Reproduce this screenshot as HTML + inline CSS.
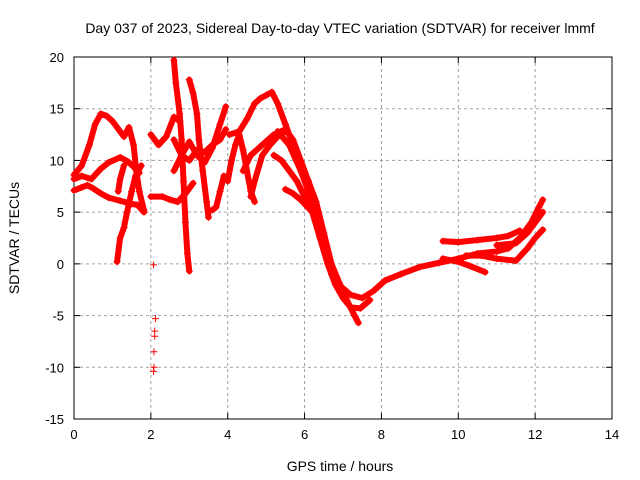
<!DOCTYPE html>
<html><head><meta charset="utf-8"><style>
body{margin:0;background:#fff;}
svg{display:block;font-family:"Liberation Sans",sans-serif;}
</style></head><body>
<svg id="chart" width="640" height="480">
<text x="340" y="33" text-anchor="middle" font-size="14">Day 037 of 2023, Sidereal Day-to-day VTEC variation (SDTVAR) for receiver lmmf</text>
<text x="340" y="471" text-anchor="middle" font-size="14">GPS time / hours</text>
<text transform="translate(19,238) rotate(-90)" text-anchor="middle" font-size="14">SDTVAR / TECUs</text>
<g id="grid"></g><g id="axes"></g><g id="marks"></g>
</svg>
<script>
const xTicks=[0,2,4,6,8,10,12,14];
const yTicks=[-15,-10,-5,0,5,10,15,20];
const tracks=[
[[0,8.6],[0.2,9.5],[0.4,11.5],[0.55,13.5],[0.7,14.5],[0.85,14.3],[1.0,13.8],[1.2,12.8],[1.3,12.3],[1.43,13.2],[1.55,11.5],[1.62,9],[1.7,7],[1.82,5.2]],
[[0,7.1],[0.2,7.4],[0.35,7.6],[0.5,7.3],[0.7,6.8],[0.9,6.4],[1.2,6.1],[1.5,5.8],[1.65,5.7],[1.82,5.0]],
[[0,8.2],[0.2,8.5],[0.45,8.2],[0.7,9.2],[0.9,9.8],[1.2,10.3],[1.4,9.9],[1.55,9.4],[1.7,8.8]],
[[1.12,0.2],[1.2,2.5],[1.3,3.5],[1.38,5],[1.5,7],[1.6,8.5],[1.75,9.5]],
[[1.15,7.0],[1.2,8.2],[1.3,9.5]],
[[2.0,12.5],[2.2,11.5],[2.4,12.3],[2.6,14.2],[2.75,13.8]],
[[2.0,6.5],[2.3,6.5],[2.5,6.2],[2.7,6.0],[2.9,6.8],[3.1,7.8]],
[[2.6,19.7],[2.65,17.5],[2.75,14.5],[2.8,12],[2.85,8],[2.9,4],[2.95,1],[3.0,-0.7]],
[[3.0,17.8],[3.1,16.5],[3.2,14.5],[3.25,12],[3.35,9],[3.45,6],[3.5,4.5]],
[[2.6,12],[2.8,10.5],[3.0,10],[3.2,11],[3.4,10.8],[3.6,11.5],[3.8,12],[3.95,13]],
[[2.6,9],[2.8,10.5],[3.0,11.8],[3.2,10.5],[3.4,9.8],[3.6,11.2],[3.8,13.5],[3.95,15.2]],
[[3.9,8.5],[3.8,7],[3.7,5.5],[3.6,5.2]],
[[4.05,12.5],[4.3,12.8],[4.5,14],[4.7,15.5],[4.85,16],[5.0,16.3],[5.15,16.6],[5.3,15.5],[5.5,13.5],[5.7,11.5],[5.9,9.5],[6.1,7.5],[6.3,5.5],[6.5,2.5],[6.6,0.7],[6.75,-1],[6.95,-2.2],[7.2,-3],[7.5,-3.3],[7.8,-2.6],[8.1,-1.6],[8.5,-1.0],[9.0,-0.3],[9.5,0.1],[10.0,0.5],[10.5,1],[11.0,1.2],[11.3,1.5],[11.6,2.5],[11.9,4],[12.1,5.5],[12.2,6.2]],
[[4.4,9],[4.6,10.5],[4.9,11.5],[5.2,12.5],[5.5,13],[5.7,12],[5.9,10],[6.1,8],[6.3,6],[6.5,3],[6.7,0],[6.9,-1.8],[7.1,-3.5],[7.3,-5],[7.4,-5.7]],
[[5.2,10.5],[5.4,10],[5.6,9],[5.8,8],[6.0,6.5],[6.2,5],[6.4,2.5],[6.6,0],[6.8,-2],[7.0,-3.3],[7.2,-4.2],[7.45,-4.3],[7.7,-3.5]],
[[5.3,12.8],[5.6,11.5],[5.9,9],[6.1,7],[6.3,4.5],[6.5,1.5],[6.7,-1],[6.9,-2.5],[7.1,-3]],
[[5.5,7.2],[5.7,6.8],[5.9,6.2],[6.2,5]],
[[9.6,2.2],[10.0,2.1],[10.5,2.3],[11.0,2.5],[11.3,2.7],[11.6,3.2]],
[[9.6,0.5],[10.0,0.2],[10.3,-0.2],[10.7,-0.8]],
[[10.2,0.8],[10.6,0.8],[11.0,0.5],[11.5,0.3],[11.8,1.5],[12.0,2.5],[12.2,3.3]],
[[11.0,1.8],[11.5,2],[11.8,3],[12.1,4.5],[12.2,5]],
[[4.0,8],[4.1,10],[4.2,11.5],[4.3,12.5],[4.4,11],[4.5,9],[4.6,7],[4.7,6]],
[[4.6,6.5],[4.7,8],[4.9,10.5],[5.1,11.5],[5.3,12.3],[5.5,12.8]]
];
const scatter=[[2.07,-0.1],[2.12,-5.3],[2.1,-6.5],[2.1,-7],[2.08,-8.5],[2.08,-10],[2.07,-10.4]];
const L=74,R=612,T=57,B=419,xMin=0,xMax=14,yMin=-15,yMax=20;
const sx=v=>L+(v-xMin)/(xMax-xMin)*(R-L);
const sy=v=>B-(v-yMin)/(yMax-yMin)*(B-T);
const NS='http://www.w3.org/2000/svg';
function mk(tag,at,parent){const e=document.createElementNS(NS,tag);for(const k in at)e.setAttribute(k,at[k]);parent.appendChild(e);return e;}
const grid=document.getElementById('grid'),axes=document.getElementById('axes'),marks=document.getElementById('marks');
xTicks.forEach(t=>{const x=sx(t);
 if(t>xMin&&t<xMax){const g=mk('line',{x1:x,x2:x,y1:T,y2:B,stroke:'#a0a0a0','stroke-dasharray':'3,3'},grid);
 
 }
 mk('line',{x1:x,x2:x,y1:B,y2:B-6,stroke:'#000'},axes);mk('line',{x1:x,x2:x,y1:T,y2:T+6,stroke:'#000'},axes);
 const tx=mk('text',{x:x,y:B+20,'text-anchor':'middle','font-size':13},axes);tx.textContent=t;
 
 });
yTicks.forEach(t=>{const y=sy(t);
 if(t>yMin&&t<yMax){const g=mk('line',{x1:L,x2:R,y1:y,y2:y,stroke:'#a0a0a0','stroke-dasharray':'3,3'},grid);
 
 }
 mk('line',{x1:L,x2:L+6,y1:y,y2:y,stroke:'#000'},axes);mk('line',{x1:R,x2:R-6,y1:y,y2:y,stroke:'#000'},axes);
 const tx=mk('text',{x:L-10,y:y+5,'text-anchor':'end','font-size':13},axes);tx.textContent=t;
 
 });
const fr=mk('rect',{x:L,y:T,width:R-L,height:B-T,fill:'none',stroke:'#000'},axes);


function cross(x,y){return `M${x-3.5},${y}h7M${x},${y-3.5}v7`;}
tracks.forEach((tr,i)=>{
 const pl=mk('polyline',{points:tr.map(p=>sx(p[0])+','+sy(p[1])).join(' '),fill:'none',stroke:'#f00','stroke-width':6,'stroke-linejoin':'round','stroke-linecap':'round'},marks);
 
 
 const pts=mk('path',{d:tr.map(p=>cross(sx(p[0]),sy(p[1]))).join(''),stroke:'#f00','stroke-width':1},marks);
 
 
});
const sc=mk('path',{d:scatter.map(p=>cross(sx(p[0]),sy(p[1]))).join(''),stroke:'#f00','stroke-width':1},marks);


</script>
</body></html>
